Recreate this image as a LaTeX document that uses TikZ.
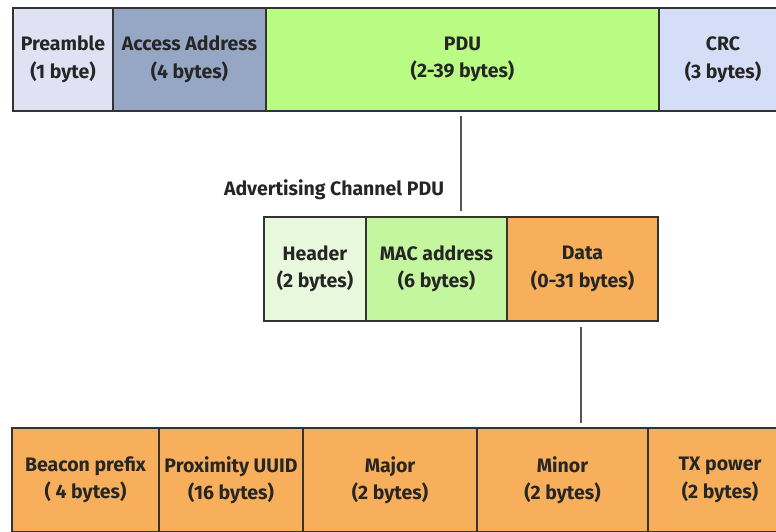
\documentclass[tikz,border=0pt]{standalone}
\usepackage{fontspec}
\setmainfont{Fira Sans}
\definecolor{cpre}{HTML}{E0E1F2}
\definecolor{cacc}{HTML}{96A7C6}
\definecolor{cpdu}{HTML}{B9FB83}
\definecolor{ccrc}{HTML}{D4DFF7}
\definecolor{chdr}{HTML}{E8F8DC}
\definecolor{cmac}{HTML}{C4F6A0}
\definecolor{cdat}{HTML}{F7AF5B}
\definecolor{cline}{HTML}{555555}
\definecolor{cbord}{HTML}{333333}
\begin{document}
\begin{tikzpicture}[x=1pt,y=-1pt,
  fld/.style={draw=cbord,line width=1.2pt,rectangle,inner sep=0pt,align=center,
    font=\fontsize{19.5}{27.5}\selectfont\bfseries, text=black!85},
  conn/.style={draw=cline,line width=1.5pt}]
\useasboundingbox (0,0) rectangle (776,531);
\clip (0,0) rectangle (776,531);
% top row
\node[fld,fill=cpre,minimum width=100pt,minimum height=103pt] (pre) at (63,59.5) {Preamble\\(1 byte)};
\node[fld,fill=cacc,minimum width=153pt,minimum height=103pt] (acc) at (189.5,59.5) {Access Address\\(4 bytes)};
\node[fld,fill=cpdu,minimum width=393pt,minimum height=103pt] (pdu) at (462.5,59.5) {PDU\\(2-39 bytes)};
\node[fld,fill=ccrc,minimum width=128pt,minimum height=103pt] (crc) at (723,59.5) {CRC\\(3 bytes)};
% middle row
\node[fld,fill=chdr,minimum width=102pt,minimum height=104pt] (hdr) at (315,269) {Header\\(2 bytes)};
\node[fld,fill=cmac,minimum width=141pt,minimum height=104pt] (mac) at (436.5,269) {MAC address\\(6 bytes)};
\node[fld,fill=cdat,minimum width=151pt,minimum height=104pt] (dat) at (582.5,269) {Data\\(0-31 bytes)};
\node[font=\fontsize{19.5}{20}\selectfont\bfseries,text=black!85,inner sep=0pt] (lbl) at (334,190) {Advertising Channel PDU};
% bottom row
\node[fld,fill=cdat,minimum width=147pt,minimum height=104pt] (bp) at (85.5,480) {Beacon prefix\\( 4 bytes)};
\node[fld,fill=cdat,minimum width=144pt,minimum height=104pt] (uuid) at (231,480) {Proximity UUID\\(16 bytes)};
\node[fld,fill=cdat,minimum width=174pt,minimum height=104pt] (maj) at (390,480) {Major\\(2 bytes)};
\node[fld,fill=cdat,minimum width=171pt,minimum height=104pt] (min) at (562.5,480) {Minor\\(2 bytes)};
\node[fld,fill=cdat,minimum width=144pt,minimum height=104pt] (tx) at (720,480) {TX power\\(2 bytes)};
% connectors
\coordinate (a1) at (461,116);
\coordinate (a2) at (461,211);
\coordinate (b1) at (581,327);
\coordinate (b2) at (581,423);
\draw[conn] (a1) -- (a2);
\draw[conn] (b1) -- (b2);
\end{tikzpicture}
\end{document}
